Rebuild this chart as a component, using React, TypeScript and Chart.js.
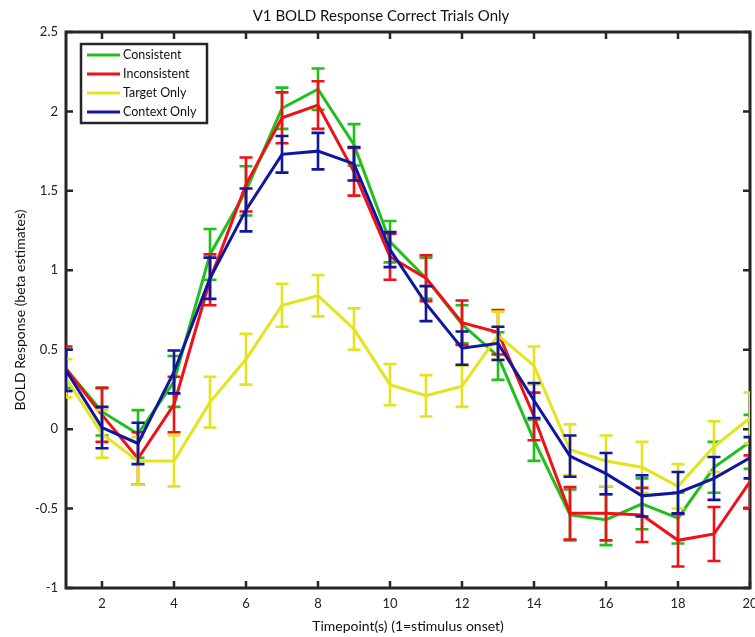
import React, { useEffect, useRef } from "react";
import { Chart, registerables } from "chart.js";

Chart.register(...registerables);

// ---- data ----
const timepoints = [1, 2, 3, 4, 5, 6, 7, 8, 9, 10, 11, 12, 13, 14, 15, 16, 17, 18, 19, 20];

const consistent = [0.38, 0.11, -0.03, 0.30, 1.10, 1.50, 2.02, 2.14, 1.79, 1.18, 0.95, 0.66, 0.46, -0.07, -0.54, -0.57, -0.47, -0.56, -0.24, -0.08];
const consistentErr = [0.12, 0.15, 0.15, 0.16, 0.16, 0.155, 0.13, 0.13, 0.13, 0.13, 0.13, 0.12, 0.15, 0.13, 0.16, 0.16, 0.16, 0.16, 0.16, 0.17];

const inconsistent = [0.38, 0.09, -0.185, 0.155, 0.94, 1.54, 1.96, 2.04, 1.62, 1.085, 0.95, 0.67, 0.61, 0.08, -0.53, -0.53, -0.54, -0.70, -0.66, -0.33];
const inconsistentErr = [0.14, 0.17, 0.165, 0.175, 0.16, 0.17, 0.16, 0.15, 0.15, 0.145, 0.145, 0.14, 0.14, 0.15, 0.165, 0.17, 0.17, 0.165, 0.17, 0.165];

const targetOnly = [0.32, -0.03, -0.20, -0.20, 0.17, 0.44, 0.78, 0.84, 0.63, 0.28, 0.21, 0.27, 0.59, 0.40, -0.13, -0.20, -0.24, -0.36, -0.11, 0.07];
const targetOnlyErr = [0.12, 0.15, 0.15, 0.16, 0.16, 0.16, 0.135, 0.13, 0.13, 0.13, 0.13, 0.13, 0.15, 0.12, 0.16, 0.16, 0.16, 0.14, 0.16, 0.16];

const contextOnly = [0.37, 0.01, -0.09, 0.36, 0.95, 1.38, 1.73, 1.75, 1.67, 1.13, 0.79, 0.51, 0.54, 0.18, -0.17, -0.28, -0.42, -0.40, -0.31, -0.18];
const contextOnlyErr = [0.13, 0.13, 0.13, 0.135, 0.13, 0.135, 0.115, 0.115, 0.105, 0.11, 0.11, 0.105, 0.105, 0.11, 0.13, 0.13, 0.13, 0.13, 0.135, 0.13];

const seriesNames = ["Consistent", "Inconsistent", "Target Only", "Context Only"];
const seriesValues = [consistent, inconsistent, targetOnly, contextOnly];
const seriesErrors = [consistentErr, inconsistentErr, targetOnlyErr, contextOnlyErr];
const seriesColors = ["#22bf1c", "#f01016", "#e4e41e", "#10169e"];

const xTickValues = [2, 4, 6, 8, 10, 12, 14, 16, 18, 20];
const yTickValues = [-1, -0.5, 0, 0.5, 1, 1.5, 2, 2.5];

const chartTitle = "V1 BOLD Response Correct Trials Only";
const xTitle = "Timepoint(s) (1=stimulus onset)";
const yTitle = "BOLD Response (beta estimates)";

const FONT = "Lato, 'Open Sans', 'DejaVu Sans', sans-serif";
const AXIS = "#262626";

const decorPlugin = {
  id: "decor",
  beforeDatasetsDraw(chart: any) {
    const { ctx, chartArea, scales } = chart;
    const { left, right, top, bottom } = chartArea;
    const x = scales.x;
    const y = scales.y;
    ctx.save();
    ctx.strokeStyle = AXIS;
    ctx.lineWidth = 2.5;
    const tl = 7;
    ctx.beginPath();
    for (const v of xTickValues) {
      const px = x.getPixelForValue(v);
      ctx.moveTo(px, bottom);
      ctx.lineTo(px, bottom - tl);
      ctx.moveTo(px, top);
      ctx.lineTo(px, top + tl);
    }
    for (const v of yTickValues) {
      const py = y.getPixelForValue(v);
      ctx.moveTo(left, py);
      ctx.lineTo(left + tl, py);
      ctx.moveTo(right, py);
      ctx.lineTo(right - tl, py);
    }
    ctx.stroke();
    ctx.lineWidth = 3;
    ctx.strokeRect(left, top, right - left, bottom - top);
    ctx.restore();
  },
  afterDatasetDraw(chart: any, args: any) {
    const { ctx, chartArea, scales } = chart;
    const idx = args.index;
    const errs = seriesErrors[idx];
    const vals = seriesValues[idx];
    if (!errs) return;
    const x = scales.x;
    const y = scales.y;
    ctx.save();
    ctx.beginPath();
    ctx.rect(chartArea.left, chartArea.top, chartArea.right - chartArea.left, chartArea.bottom - chartArea.top);
    ctx.clip();
    ctx.strokeStyle = seriesColors[idx];
    ctx.lineWidth = 2.6;
    ctx.beginPath();
    const cap = 6.5;
    for (let i = 0; i < vals.length; i++) {
      const px = x.getPixelForValue(timepoints[i]);
      const pTop = y.getPixelForValue(vals[i] + errs[i]);
      const pBot = y.getPixelForValue(vals[i] - errs[i]);
      ctx.moveTo(px, pTop);
      ctx.lineTo(px, pBot);
      ctx.moveTo(px - cap, pTop);
      ctx.lineTo(px + cap, pTop);
      ctx.moveTo(px - cap, pBot);
      ctx.lineTo(px + cap, pBot);
    }
    ctx.stroke();
    ctx.restore();
  },
  afterDraw(chart: any) {
    const { ctx } = chart;
    ctx.save();
    // title
    ctx.fillStyle = "#111";
    ctx.font = `15px ${FONT}`;
    ctx.textAlign = "center";
    ctx.textBaseline = "middle";
    ctx.fillText(chartTitle, 381, 16);
    // legend
    const bx = 81, by = 44, bw = 126, bh = 79;
    ctx.fillStyle = "#ffffff";
    ctx.fillRect(bx, by, bw, bh);
    ctx.strokeStyle = AXIS;
    ctx.lineWidth = 2.5;
    ctx.strokeRect(bx, by, bw, bh);
    ctx.font = `12.5px ${FONT}`;
    ctx.textAlign = "left";
    ctx.textBaseline = "middle";
    const rows = [55, 74, 93, 112];
    for (let i = 0; i < seriesNames.length; i++) {
      ctx.strokeStyle = seriesColors[i];
      ctx.lineWidth = 3;
      ctx.beginPath();
      ctx.moveTo(87, rows[i]);
      ctx.lineTo(120, rows[i]);
      ctx.stroke();
      ctx.fillStyle = "#111";
      ctx.fillText(seriesNames[i], 123, rows[i]);
    }
    ctx.restore();
  },
};

export default function App() {
  const canvasRef = useRef<HTMLCanvasElement | null>(null);

  useEffect(() => {
    document.body.style.margin = "0";
    const canvas = canvasRef.current;
    if (!canvas) return;
    const drawOrder = [3, 2, 1, 0];
    const chart = new Chart(canvas, {
      type: "line",
      data: {
        datasets: seriesNames.map((name, i) => ({
          label: name,
          data: timepoints.map((t, j) => ({ x: t, y: seriesValues[i][j] })),
          borderColor: seriesColors[i],
          backgroundColor: seriesColors[i],
          borderWidth: 3,
          pointRadius: 0,
          tension: 0,
          fill: false,
          clip: 0,
          order: drawOrder[i],
        })),
      },
      options: {
        responsive: false,
        animation: false,
        devicePixelRatio: 1,
        layout: { padding: { left: 0, right: 50, top: 32, bottom: 0 } },
        plugins: {
          legend: { display: false },
          title: { display: false },
          tooltip: { enabled: false },
        },
        scales: {
          x: {
            type: "linear",
            min: 1,
            max: 20,
            afterBuildTicks: (s: any) => {
              s.ticks = xTickValues.map((v) => ({ value: v }));
            },
            afterFit: (s: any) => {
              s.height = 49;
            },
            grid: { display: false, drawTicks: false },
            border: { display: false },
            ticks: {
              padding: 8,
              autoSkip: false,
              maxRotation: 0,
              color: "#222",
              font: { family: FONT, size: 13 },
              callback: (v: any) => String(v),
            },
            title: {
              display: true,
              text: xTitle,
              color: "#111",
              font: { family: FONT, size: 14 },
              padding: { top: 0, bottom: 2 },
            },
          },
          y: {
            type: "linear",
            min: -1,
            max: 2.5,
            afterBuildTicks: (s: any) => {
              s.ticks = yTickValues.map((v) => ({ value: v }));
            },
            afterFit: (s: any) => {
              s.width = 66;
            },
            grid: { display: false, drawTicks: false },
            border: { display: false },
            ticks: {
              padding: 8,
              autoSkip: false,
              color: "#222",
              font: { family: FONT, size: 13 },
              callback: (v: any) => String(v),
            },
            title: {
              display: true,
              text: yTitle,
              color: "#111",
              font: { family: FONT, size: 14 },
              padding: { top: 12, bottom: 0 },
            },
          },
        },
      },
      plugins: [decorPlugin],
    } as any);
    return () => chart.destroy();
  }, []);

  return (
    <div style={{ width: 755, height: 637, overflow: "hidden", background: "#fff" }}>
      <canvas ref={canvasRef} width={800} height={637} style={{ display: "block", width: 800, height: 637 }} />
    </div>
  );
}
